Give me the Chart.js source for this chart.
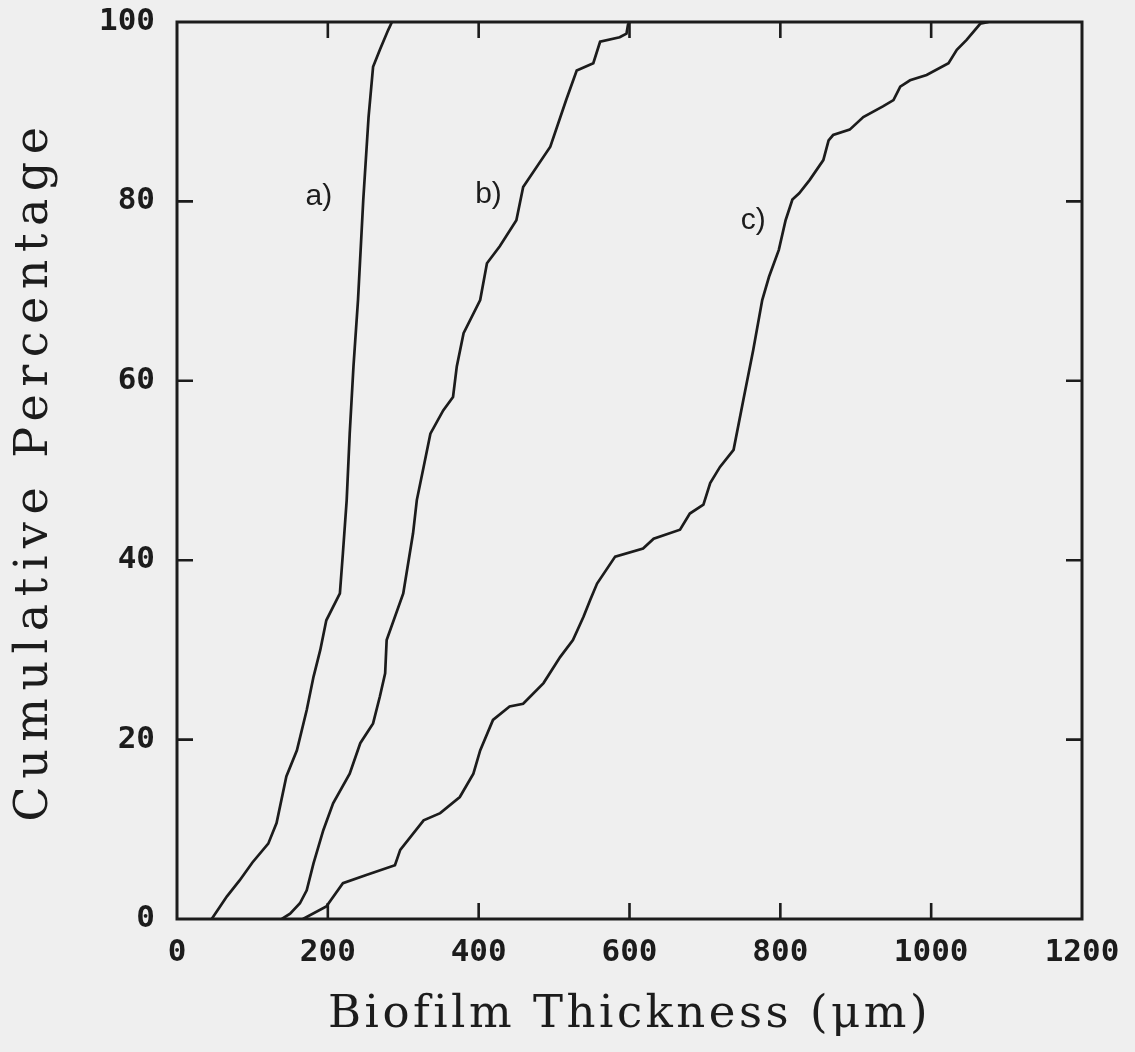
<!DOCTYPE html>
<html><head><meta charset="utf-8">
<script src="https://cdn.jsdelivr.net/npm/chart.js@4/dist/chart.umd.min.js"></script>
<style>html,body{margin:0;padding:0;background:#efefef;}canvas{display:block}</style>
</head><body>
<canvas id="c" width="1135" height="1052"></canvas>
<script>
// ---- data ----
const xTickValues = [0, 200, 400, 600, 800, 1000, 1200];
const yTickValues = [0, 20, 40, 60, 80, 100];

const seriesLabels = ['a)', 'b)', 'c)'];

const thicknessA = [46, 66, 83, 100, 121, 132, 145, 159, 172, 181, 190, 198, 216, 220, 225, 229, 234, 240, 247, 254, 260, 269, 280, 285];
const percentA   = [0, 2.5, 4.3, 6.3, 8.4, 10.7, 15.9, 18.8, 23.3, 27, 30, 33.3, 36.3, 40.8, 46.7, 54.1, 61.6, 69, 80.2, 89.4, 95, 96.9, 99.1, 100];

const thicknessB = [139, 150, 163, 172, 181, 194, 207, 229, 243, 260, 269, 276, 278, 300, 313, 318, 327, 336, 353, 366, 371, 380, 402, 411, 428, 450, 459, 495, 516, 530, 552, 561, 587, 596, 598, 600];
const percentB   = [0, 0.6, 1.75, 3.2, 6.2, 9.9, 12.9, 16.2, 19.6, 21.8, 24.8, 27.4, 31.1, 36.3, 43, 46.7, 50.4, 54.1, 56.7, 58.2, 61.6, 65.3, 69, 73.1, 75, 77.9, 81.6, 86.1, 91.3, 94.6, 95.4, 97.8, 98.3, 98.7, 99.7, 100];

const thicknessC = [167, 198, 220, 251, 289, 296, 327, 349, 375, 393, 402, 419, 441, 459, 486, 508, 525, 539, 548, 557, 581, 618, 632, 667, 680, 698, 707, 720, 738, 751, 764, 776, 785, 798, 807, 816, 825, 839, 857, 864, 870, 892, 910, 936, 950, 959, 972, 994, 1023, 1034, 1047, 1065, 1076];
const percentC   = [0, 1.4, 4, 4.9, 6, 7.7, 11, 11.8, 13.6, 16.2, 18.8, 22.2, 23.7, 24, 26.3, 29.2, 31.1, 33.7, 35.6, 37.4, 40.4, 41.3, 42.4, 43.4, 45.2, 46.2, 48.6, 50.4, 52.3, 57.9, 63.4, 69, 71.6, 74.6, 77.9, 80.2, 80.9, 82.4, 84.6, 86.8, 87.4, 88, 89.4, 90.6, 91.3, 92.8, 93.5, 94.1, 95.4, 96.9, 98, 99.8, 100];

// curve label anchor positions (data units)
const labelThickness = [188, 413, 764];
const labelPercent   = [80.5, 80.7, 77.9];

// ---- helpers ----
const zip = (xs, ys) => xs.map((x, i) => ({x: x, y: ys[i]}));
const INK = '#1c1c1c';

class SpacedLinear extends Chart.LinearScale {
  drawTitle() {
    const ctx = this.ctx;
    ctx.save();
    ctx.letterSpacing = (this.options.title.letterSpacing || 0) + 'px';
    super.drawTitle();
    ctx.restore();
  }
}
SpacedLinear.id = 'spacedLinear';
SpacedLinear.defaults = Chart.LinearScale.defaults;
Chart.register(SpacedLinear);

const paperPlugin = {
  id: 'paper',
  beforeDraw(chart) {
    const ctx = chart.ctx;
    ctx.save();
    ctx.fillStyle = '#efefef';
    ctx.fillRect(0, 0, chart.width, chart.height);
    ctx.restore();
  }
};

const framePlugin = {
  id: 'frame',
  afterDatasetsDraw(chart) {
    const ctx = chart.ctx;
    const a = chart.chartArea;
    const xs = chart.scales.x, ys = chart.scales.y;
    ctx.save();
    ctx.strokeStyle = INK;
    ctx.lineWidth = 3;
    ctx.lineCap = 'butt';
    ctx.strokeRect(a.left, a.top, a.right - a.left, a.bottom - a.top);
    const tl = 16;
    ctx.lineWidth = 2.6;
    ctx.beginPath();
    xTickValues.slice(1, -1).forEach(v => {
      const px = xs.getPixelForValue(v);
      ctx.moveTo(px, a.bottom); ctx.lineTo(px, a.bottom - tl);
      ctx.moveTo(px, a.top); ctx.lineTo(px, a.top + tl);
    });
    yTickValues.slice(1, -1).forEach(v => {
      const py = ys.getPixelForValue(v);
      ctx.moveTo(a.left, py); ctx.lineTo(a.left + tl, py);
      ctx.moveTo(a.right, py); ctx.lineTo(a.right - tl, py);
    });
    ctx.stroke();
    // curve labels
    ctx.fillStyle = INK;
    ctx.font = '30px "Liberation Sans"';
    ctx.textAlign = 'center';
    ctx.textBaseline = 'middle';
    seriesLabels.forEach((t, i) => {
      ctx.fillText(t, xs.getPixelForValue(labelThickness[i]), ys.getPixelForValue(labelPercent[i]));
    });
    ctx.restore();
  }
};

const mk = (xs, ys, name) => ({
  label: name,
  data: zip(xs, ys),
  borderColor: INK,
  borderWidth: 2.7,
  pointRadius: 0,
  fill: false,
  tension: 0
});

new Chart(document.getElementById('c'), {
  type: 'line',
  data: {
    datasets: [
      mk(thicknessA, percentA, seriesLabels[0]),
      mk(thicknessB, percentB, seriesLabels[1]),
      mk(thicknessC, percentC, seriesLabels[2])
    ]
  },
  options: {
    responsive: false,
    animation: false,
    layout: {padding: {top: 22, right: 53, left: 0, bottom: 0}},
    plugins: {legend: {display: false}, tooltip: {enabled: false}},
    scales: {
      x: {
        type: 'spacedLinear',
        min: 0, max: 1200,
        afterBuildTicks(s) { s.ticks = xTickValues.map(v => ({value: v})); },
        afterFit(s) { s.height = 133; s.paddingLeft = 0; s.paddingRight = 0; },
        grid: {display: false, drawTicks: false},
        border: {display: false},
        ticks: {
          color: INK, padding: 15, maxRotation: 0, autoSkip: false,
          callback: v => String(v),
          font: {family: '"DejaVu Sans Mono"', weight: 'bold', size: 31}
        },
        title: {
          display: true, text: 'Biofilm Thickness (μm)', color: INK,
          font: {family: '"DejaVu Serif"', size: 45},
          padding: {top: 0, bottom: 10},
          letterSpacing: 3.5
        }
      },
      y: {
        type: 'spacedLinear',
        min: 0, max: 100,
        afterBuildTicks(s) { s.ticks = yTickValues.map(v => ({value: v})); },
        afterFit(s) { s.width = 177; s.paddingTop = 0; s.paddingBottom = 0; },
        grid: {display: false, drawTicks: false},
        border: {display: false},
        ticks: {
          color: INK, padding: 22,
          callback: v => String(v),
          font: {family: '"DejaVu Sans Mono"', weight: 'bold', size: 31}
        },
        title: {
          display: true, text: 'Cumulative Percentage', color: INK,
          font: {family: '"DejaVu Serif"', size: 46},
          padding: {top: 7, bottom: 0},
          letterSpacing: 7.5
        }
      }
    }
  },
  plugins: [paperPlugin, framePlugin]
});
</script>
</body></html>
